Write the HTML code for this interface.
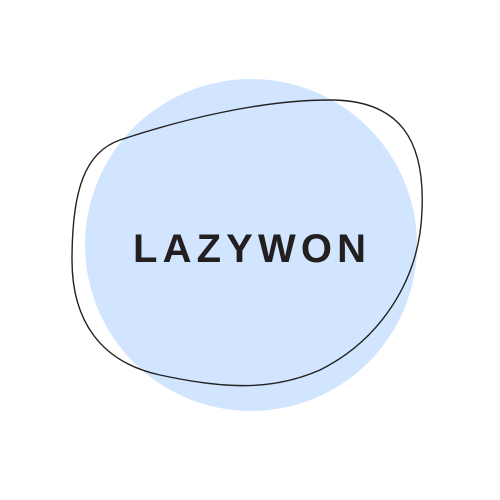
<!DOCTYPE html>
<html><head><meta charset="utf-8"><style>
html,body{margin:0;padding:0;background:#fff;width:500px;height:500px;overflow:hidden}
</style></head><body>
<svg width="500" height="500" viewBox="0 0 500 500">
<rect width="500" height="500" fill="#ffffff"/>
<circle cx="251" cy="245" r="166" fill="#d1e6fe"/>
<path d="M120,140 C180,120 260,100 330,100 C400,100 425,140 422,210 C420,280 380,340 320,370 C270,392 220,388 160,375 C100,362 72,320 72,260 C72,190 85,152 120,140 Z" fill="none" stroke="#222" stroke-width="1.4"/>
<text x="133" y="262" font-family="Liberation Sans, sans-serif" font-size="40" font-weight="bold" fill="#231f20" textLength="233" lengthAdjust="spacing">LAZYWON</text>
</svg>
</body></html>
